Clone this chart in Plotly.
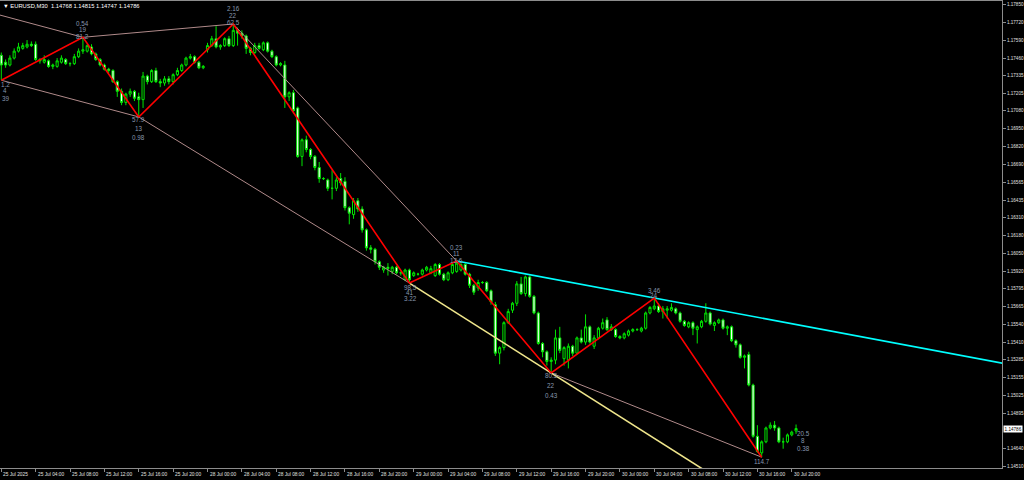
import plotly.graph_objects as go

# ---------------- data (EURUSD M30, bar index 0 = 25 Jul 2025 00:00) ----------------
opens = [
 1.1748,1.1743,1.1741,1.1746,1.1751,1.1753,1.1754,1.1756,1.1756,1.1745,
 1.1743,1.1744,1.1740,1.1740,1.1743,1.1745,1.1742,1.1742,1.1747,1.1751,
 1.1751,1.1754,1.1749,1.1745,1.1741,1.1738,1.1737,1.1729,1.1722,1.1714,
 1.1720,1.1722,1.1718,1.1716,1.1733,1.1729,1.1737,1.1729,1.1728,1.1731,
 1.1729,1.1734,1.1737,1.1741,1.1746,1.1747,1.1743,1.1739,1.1752,1.1755,
 1.1760,1.1754,1.1755,1.1760,1.1755,1.1766,1.1764,1.1762,1.1753,1.1750,
 1.1755,1.1752,1.1757,1.1751,1.1747,1.1741,1.1741,1.1718,1.1721,1.1710,
 1.1675,1.1687,1.1680,1.1675,1.1667,1.1659,1.1658,1.1652,1.1652,1.1659,
 1.1657,1.1638,1.1633,1.1643,1.1637,1.1622,1.1609,1.1608,1.1599,1.1593,
 1.1595,1.1592,1.1595,1.1591,1.1586,1.1593,1.1589,1.1590,1.1590,1.1593,
 1.1591,1.1589,1.1597,1.1590,1.1586,1.1591,1.1592,1.1593,1.1597,1.1590,
 1.1582,1.1580,1.1584,1.1584,1.1578,1.1568,1.1533,1.1537,1.1555,1.1564,
 1.1569,1.1583,1.1576,1.1588,1.1574,1.1562,1.1540,1.1534,1.1527,1.1528,
 1.1544,1.1529,1.1528,1.1538,1.1533,1.1544,1.1541,1.1552,1.1538,1.1544,
 1.1551,1.1557,1.1550,1.1550,1.1545,1.1544,1.1546,1.1549,1.1550,1.1549,
 1.1551,1.1562,1.1565,1.1567,1.1563,1.1564,1.1564,1.1565,1.1562,1.1556,
 1.1552,1.1555,1.1550,1.1552,1.1556,1.1562,1.1553,1.1555,1.1557,1.1551,
 1.1552,1.1542,1.1539,1.1530,1.1532,1.1510,1.1473,1.1461,1.1469,1.1479,
 1.1481,1.1479,1.1469,1.1469,1.1474,1.14768]
highs = [
 1.1750,1.1745,1.1748,1.1753,1.1757,1.1757,1.1759,1.1758,1.1758,1.1746,
 1.1748,1.1745,1.1742,1.1746,1.1748,1.1746,1.1743,1.1749,1.1753,1.1761,
 1.1756,1.1756,1.1750,1.1746,1.1742,1.1739,1.1738,1.1730,1.1724,1.1721,
 1.1724,1.1723,1.1721,1.1736,1.1734,1.1738,1.1739,1.1731,1.1733,1.1733,
 1.1735,1.1739,1.1742,1.1747,1.1749,1.1748,1.1744,1.1741,1.1757,1.1762,
 1.1769,1.1756,1.1761,1.1762,1.17706,1.1768,1.1766,1.1763,1.1754,1.1757,
 1.1757,1.1758,1.1758,1.1752,1.1748,1.1743,1.1744,1.1722,1.1723,1.1711,
 1.1688,1.1690,1.1681,1.1676,1.1671,1.1660,1.1659,1.1665,1.1660,1.1663,
 1.1660,1.1639,1.1645,1.1645,1.1639,1.1623,1.1611,1.1609,1.1600,1.1596,
 1.1598,1.1596,1.1596,1.1592,1.1594,1.1594,1.1592,1.1591,1.1594,1.1596,
 1.1596,1.1598,1.1598,1.1591,1.1592,1.1598,1.15995,1.1598,1.1598,1.1591,
 1.1583,1.1586,1.1585,1.1585,1.1579,1.1570,1.1538,1.1556,1.1565,1.1570,
 1.1585,1.1588,1.1589,1.1589,1.1575,1.1563,1.1541,1.1535,1.1530,1.1550,
 1.1552,1.1538,1.1540,1.1539,1.1545,1.1550,1.1561,1.1553,1.1546,1.1552,
 1.1558,1.1559,1.1554,1.1551,1.1546,1.1548,1.1550,1.1551,1.1551,1.1552,
 1.1563,1.1567,1.15728,1.1569,1.1567,1.1567,1.1569,1.1566,1.1563,1.1557,
 1.1556,1.1556,1.1553,1.1557,1.1569,1.1563,1.1556,1.1558,1.1558,1.1553,
 1.1553,1.1543,1.1540,1.1532,1.1534,1.1511,1.1481,1.1470,1.1480,1.1483,
 1.1484,1.1480,1.1472,1.1475,1.1477,1.14815]
lows = [
 1.1730,1.1739,1.1740,1.1745,1.1750,1.1752,1.1753,1.1754,1.1744,1.1742,
 1.1742,1.1739,1.1738,1.1739,1.1742,1.1741,1.1740,1.1741,1.1746,1.1749,
 1.1750,1.1748,1.1744,1.1740,1.1737,1.1735,1.1728,1.1718,1.1712,1.1712,
 1.1718,1.1715,1.17035,1.1710,1.1727,1.1728,1.1728,1.1725,1.1726,1.1727,
 1.1727,1.1733,1.1736,1.1740,1.1745,1.1742,1.1738,1.1738,1.1750,1.1754,
 1.1753,1.1752,1.1754,1.1754,1.1754,1.1755,1.1760,1.1749,1.1748,1.1749,
 1.1752,1.1751,1.1750,1.1746,1.1740,1.1740,1.1710,1.1715,1.1706,1.1674,
 1.1668,1.1678,1.1673,1.1665,1.1656,1.1658,1.1650,1.1644,1.1650,1.1654,
 1.1636,1.1626,1.1630,1.1635,1.1620,1.1607,1.1605,1.1597,1.1593,1.1591,
 1.1589,1.1590,1.1590,1.1589,1.1585,1.15836,1.1588,1.1589,1.1589,1.1592,
 1.1590,1.1588,1.1589,1.1585,1.1585,1.1590,1.1591,1.1592,1.1589,1.1580,
 1.1575,1.1578,1.1583,1.1577,1.1568,1.1531,1.1525,1.1535,1.1554,1.1562,
 1.1567,1.1575,1.1574,1.1573,1.1561,1.1539,1.1530,1.1524,1.15187,1.1525,
 1.1533,1.1524,1.1522,1.1531,1.1532,1.1540,1.1539,1.1540,1.1536,1.1543,
 1.1550,1.1549,1.1549,1.1544,1.1543,1.1543,1.1545,1.1548,1.1549,1.1548,
 1.1550,1.1561,1.1564,1.1562,1.1558,1.1558,1.1563,1.1561,1.1555,1.1552,
 1.1551,1.1546,1.1540,1.1551,1.1555,1.1553,1.1549,1.1554,1.1550,1.1546,
 1.1541,1.1537,1.1529,1.1522,1.1509,1.1472,1.1461,1.14579,1.1468,1.1478,
 1.1477,1.1468,1.1464,1.1468,1.1473,1.14747]
closes = [
 1.1741,1.1741,1.1746,1.1751,1.1754,1.1755,1.1756,1.1755,1.1745,1.1744,
 1.1745,1.1740,1.1741,1.1744,1.1746,1.1742,1.1742,1.1747,1.1751,1.1752,
 1.1755,1.1749,1.1745,1.1741,1.1738,1.1737,1.1729,1.1722,1.1714,1.1720,
 1.1722,1.1717,1.1716,1.1733,1.1729,1.1737,1.1729,1.1728,1.1731,1.1729,
 1.1734,1.1737,1.1741,1.1746,1.1747,1.1743,1.1739,1.1740,1.1755,1.1760,
 1.1754,1.1755,1.1760,1.1755,1.1766,1.1764,1.1762,1.1753,1.1750,1.1755,
 1.1753,1.1757,1.1751,1.1747,1.1741,1.1742,1.1718,1.1721,1.1708,1.1675,
 1.1687,1.1680,1.1675,1.1667,1.1659,1.1659,1.1652,1.1652,1.1658,1.1656,
 1.1638,1.1634,1.1643,1.1637,1.1622,1.1609,1.1608,1.1599,1.1595,1.1595,
 1.1594,1.1595,1.1591,1.1591,1.1593,1.1586,1.1591,1.1590,1.1593,1.1595,
 1.1594,1.1597,1.1590,1.1586,1.1591,1.1597,1.1598,1.1597,1.1590,1.1582,
 1.1577,1.1584,1.1584,1.1578,1.1570,1.1533,1.1537,1.1555,1.1563,1.1569,
 1.1583,1.1576,1.1588,1.1574,1.1562,1.1540,1.1534,1.1527,1.1528,1.1544,
 1.1535,1.1537,1.1538,1.1533,1.1544,1.1541,1.1552,1.1541,1.1544,1.1551,
 1.1555,1.1550,1.1552,1.1545,1.1544,1.1547,1.1549,1.1550,1.1550,1.1551,
 1.1562,1.1566,1.1567,1.1563,1.1565,1.1565,1.1566,1.1562,1.1556,1.1553,
 1.1555,1.1551,1.1552,1.1556,1.1562,1.1554,1.1555,1.1557,1.1551,1.1552,
 1.1542,1.1539,1.1530,1.1531,1.1510,1.1473,1.1462,1.1469,1.1479,1.1481,
 1.1479,1.1469,1.1469,1.1474,1.1476,1.14786]

# zigzag pivots (bar index, price)
zz_idx = [0, 19, 32, 54, 95, 106, 128, 152, 177]
zz_px = [1.1730, 1.1761, 1.17035, 1.17706, 1.15836, 1.15995, 1.15187, 1.15728, 1.14579]
# upper channel pivots (first one is the previous, off-screen peak)
peak_idx = [-10, 19, 54, 106, 152]
peak_px = [1.17851, 1.1761, 1.17706, 1.15995, 1.15728]
trough_idx = [0, 32, 95, 128, 177]
trough_px = [1.1730, 1.17035, 1.15836, 1.15187, 1.14579]

# pivot label texts
lab_idx = [0, 19, 32, 54, 95, 106, 128, 152, 177, 185]
lab_px = [1.1730, 1.1761, 1.17035, 1.17706, 1.15836, 1.15995, 1.15187, 1.15728, 1.14579, 1.14786]
lab_txt = [["1.2", "4", "39"], ["0.54", "19", "81.2"], ["57.9", "13", "0.98"],
           ["2.16", "22", "62.5"], ["98.5", "41", "3.22"], ["0.23", "11", "13.6"],
           ["80.5", "22", "0.43"], ["3.46", "24"], ["114.7"], ["20.5", "8", "0.38"]]

tick_idx = [0, 8, 16, 24, 32, 40, 48, 56, 64, 72, 80, 88, 96, 104, 112, 120,
            128, 136, 144, 152, 160, 168, 176, 184]
tick_txt = ["25 Jul 2025", "25 Jul 04:00", "25 Jul 08:00", "25 Jul 12:00", "25 Jul 16:00",
            "25 Jul 20:00", "28 Jul 00:00", "28 Jul 04:00", "28 Jul 08:00", "28 Jul 12:00",
            "28 Jul 16:00", "28 Jul 20:00", "29 Jul 00:00", "29 Jul 04:00", "29 Jul 08:00",
            "29 Jul 12:00", "29 Jul 16:00", "29 Jul 20:00", "30 Jul 00:00", "30 Jul 04:00",
            "30 Jul 08:00", "30 Jul 12:00", "30 Jul 16:00", "30 Jul 20:00"]
price_ticks = [1.17850, 1.17720, 1.17590, 1.17460, 1.17335, 1.17205, 1.17080, 1.16950,
               1.16820, 1.16690, 1.16565, 1.16435, 1.16310, 1.16180, 1.16050, 1.15920,
               1.15795, 1.15665, 1.15540, 1.15410, 1.15285, 1.15155, 1.15025, 1.14895,
               1.14640, 1.14510]
header = "\u25BC EURUSD,M30  1.14768 1.14815 1.14747 1.14786"
last_price = closes[-1]

# ---------------- styles ----------------
GREEN = "#00E600"
FRAME = "#8C8C8C"
AXTXT = "#E0E0E0"
LABC = "#8797AE"
PINK = "#B08A8A"
FONT = "Liberation Sans"
X_RANGE = [-0.30, 232.94]
Y_RANGE = [1.14501, 1.17872]

bars = list(range(len(opens)))
fig = go.Figure()
fig.add_trace(go.Candlestick(
    x=bars, open=opens, high=highs, low=lows, close=closes,
    increasing=dict(line=dict(color=GREEN, width=1), fillcolor="black"),
    decreasing=dict(line=dict(color=GREEN, width=1), fillcolor="white"),
    whiskerwidth=0, hoverinfo="skip", showlegend=False))


def line(xs, ys, color, width):
    fig.add_trace(go.Scatter(x=xs, y=ys, mode="lines", line=dict(color=color, width=width),
                             hoverinfo="skip", showlegend=False))


def ray(i0, p0, i1, p1, i_end):
    slope = (p1 - p0) / (i1 - i0)
    return [i0, i_end], [p0, p0 + slope * (i_end - i0)]


# upper channel (peaks) pink
line(peak_idx[:4], peak_px[:4], PINK, 1)
# lower channel (troughs) pink
line(trough_idx[:3], trough_px[:3], PINK, 1)
line(trough_idx[3:5], trough_px[3:5], PINK, 1)
# yellow ray trough2 -> trough3 extended
xs, ys = ray(trough_idx[2], trough_px[2], trough_idx[3], trough_px[3], 180)
line(xs, ys, "#F0E68C", 1.6)
# cyan ray peak3 -> peak4 extended to right edge
xs, ys = ray(peak_idx[3], peak_px[3], peak_idx[4], peak_px[4], X_RANGE[1] + 1)
line(xs, ys, "#00FFFF", 1.6)
# red zigzag
line(zz_idx, zz_px, "#FF0000", 1.6)

# ---------------- annotations ----------------
ann = []
lab_shift = [[-4, -10, -18], [14, 7.5, 1], [-3, -12, -21], [16, 9, 2], [-4, -9.5, -15],
             [14, 7.5, 1], [-3, -13, -23], [8, 2.5], [-4], [-4.5, -11.5, -19.5]]
lab_xshift = [None, 0, 0, 0, 1, 0, 0, 0, 0, 7]
first_left = [-1.3, 0.7, 0.4]
for k, (ix, px, txts) in enumerate(zip(lab_idx, lab_px, lab_txt)):
    for j, t in enumerate(txts):
        if k == 0:
            ann.append(dict(x=ix, y=px, xref="x", yref="y", text=t, showarrow=False,
                            xanchor="left", yanchor="middle", xshift=first_left[j] - 1.3,
                            yshift=lab_shift[k][j], font=dict(size=6.3, color=LABC, family=FONT)))
        else:
            ann.append(dict(x=ix, y=px, xref="x", yref="y", text=t, showarrow=False,
                            xanchor="center", yanchor="middle", xshift=lab_xshift[k],
                            yshift=lab_shift[k][j], font=dict(size=6.3, color=LABC, family=FONT)))

# time-axis labels (MetaTrader style: text starts at the tick)
for ix, t in zip(tick_idx, tick_txt):
    ann.append(dict(x=ix, y=0, xref="x", yref="paper", text=t, showarrow=False,
                    xanchor="left", yanchor="top", xshift=0, yshift=-2,
                    font=dict(size=4.8, color=AXTXT, family=FONT)))

ann.append(dict(x=0, y=1, xref="paper", yref="paper", text=header, showarrow=False,
                xanchor="left", yanchor="top", xshift=1, yshift=0,
                font=dict(size=5.8, color="white", family=FONT)))
ann.append(dict(x=1, y=last_price, xref="paper", yref="y", text=f"{last_price:.5f}",
                showarrow=False, xanchor="left", yanchor="middle", xshift=1,
                bgcolor="white", borderpad=0.6,
                font=dict(size=4.6, color="black", family=FONT)))

fig.update_layout(
    width=1024, height=480,
    margin=dict(l=0, r=22, t=1, b=12, pad=0, autoexpand=False),
    paper_bgcolor="black", plot_bgcolor="black",
    showlegend=False, hovermode=False,
    annotations=ann,
    xaxis=dict(range=X_RANGE, rangeslider=dict(visible=False), showgrid=False,
               zeroline=False, showline=True, mirror=True, linecolor=FRAME, linewidth=1,
               ticks="outside", ticklen=3, tickcolor=FRAME, tickwidth=1,
               tickvals=tick_idx, showticklabels=False, automargin=False,
               fixedrange=True),
    yaxis=dict(range=Y_RANGE, side="right", showgrid=False, zeroline=False,
               showline=True, mirror=True, linecolor=FRAME, linewidth=1,
               ticks="outside", ticklen=3, tickcolor=FRAME, tickwidth=1,
               tickvals=price_ticks, ticktext=[f"{v:.5f}" for v in price_ticks],
               tickfont=dict(size=4.6, color=AXTXT, family=FONT), automargin=False,
               fixedrange=True),
)

fig.write_html("out.html", config={"displayModeBar": False, "staticPlot": True},
               post_script="document.body.style.margin='0';document.body.style.overflow='hidden';")
